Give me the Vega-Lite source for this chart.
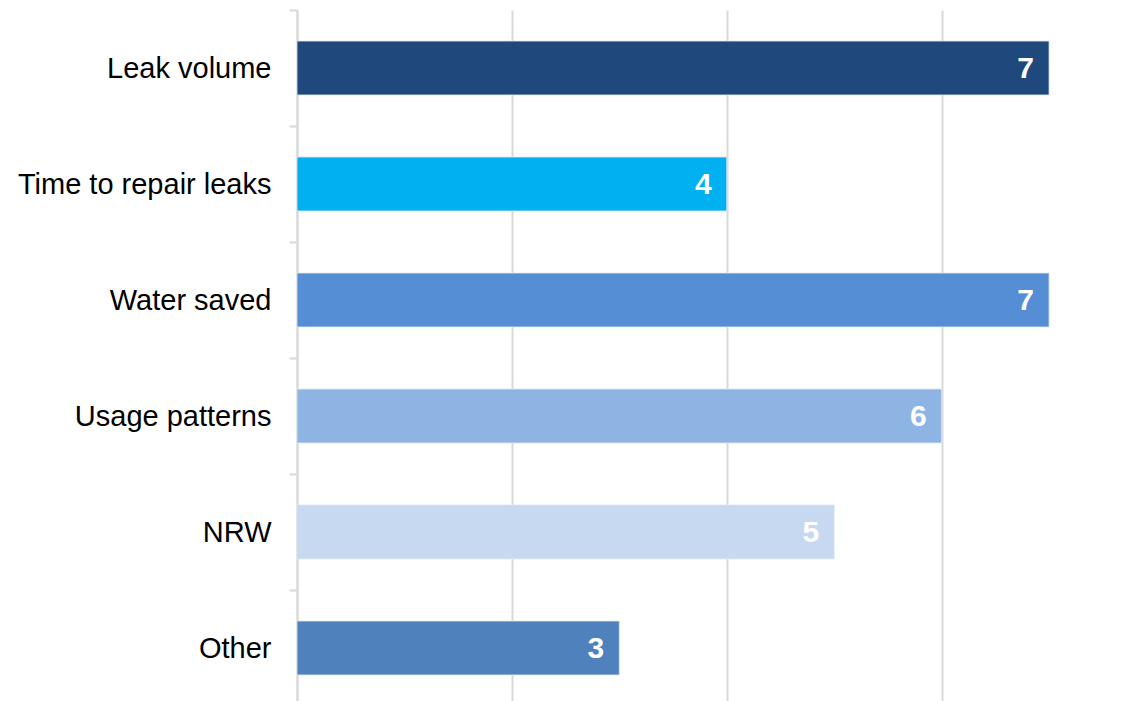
{
  "$schema": "https://vega.github.io/schema/vega-lite/v6.json",
  "width": 838,
  "height": 696,
  "autosize": {"type": "none"},
  "padding": {"left": 297, "top": 10, "right": 3, "bottom": 0},
  "background": "#ffffff",
  "config": {"view": {"stroke": null}, "font": "Liberation Sans"},
  "data": {
    "values": [
      {"category": "Leak volume", "value": 7},
      {"category": "Time to repair leaks", "value": 4},
      {"category": "Water saved", "value": 7},
      {"category": "Usage patterns", "value": 6},
      {"category": "NRW", "value": 5},
      {"category": "Other", "value": 3}
    ]
  },
  "encoding": {
    "y": {
      "field": "category",
      "type": "nominal",
      "sort": null,
      "scale": {"paddingInner": 0.535, "paddingOuter": 0.2675},
      "axis": {
        "title": null,
        "labelFont": "Liberation Sans",
        "labelFontSize": 29,
        "labelColor": "#000000",
        "labelPadding": 18,
        "labelLimit": 400,
        "labelOffset": 58,
        "tickOffset": -58,
        "tickSize": 8,
        "tickColor": "#D9D9D9",
        "tickWidth": 2,
        "domainColor": "#D9D9D9",
        "domainWidth": 2,
        "grid": false
      }
    },
    "x": {
      "field": "value",
      "type": "quantitative",
      "scale": {"domain": [0, 7.8], "nice": false},
      "axis": {
        "title": null,
        "values": [0, 2, 4, 6],
        "labels": false,
        "ticks": false,
        "domain": false,
        "grid": true,
        "gridColor": "#D9D9D9",
        "gridWidth": 2
      }
    }
  },
  "layer": [
    {
      "mark": {"type": "bar", "stroke": "#dfe6f0", "strokeWidth": 0.8},
      "encoding": {
        "color": {
          "field": "category",
          "type": "nominal",
          "scale": {
            "domain": ["Leak volume", "Time to repair leaks", "Water saved", "Usage patterns", "NRW", "Other"],
            "range": ["#1F497D", "#00B0F0", "#558ED5", "#8EB4E3", "#C6D9F1", "#4F81BD"]
          },
          "legend": null
        }
      }
    },
    {
      "mark": {
        "type": "text",
        "align": "right",
        "baseline": "middle",
        "dx": -15,
        "dy": 1,
        "font": "Liberation Sans",
        "fontSize": 30,
        "fontWeight": "bold",
        "color": "#ffffff"
      },
      "encoding": {
        "text": {"field": "value", "type": "quantitative"}
      }
    }
  ]
}
